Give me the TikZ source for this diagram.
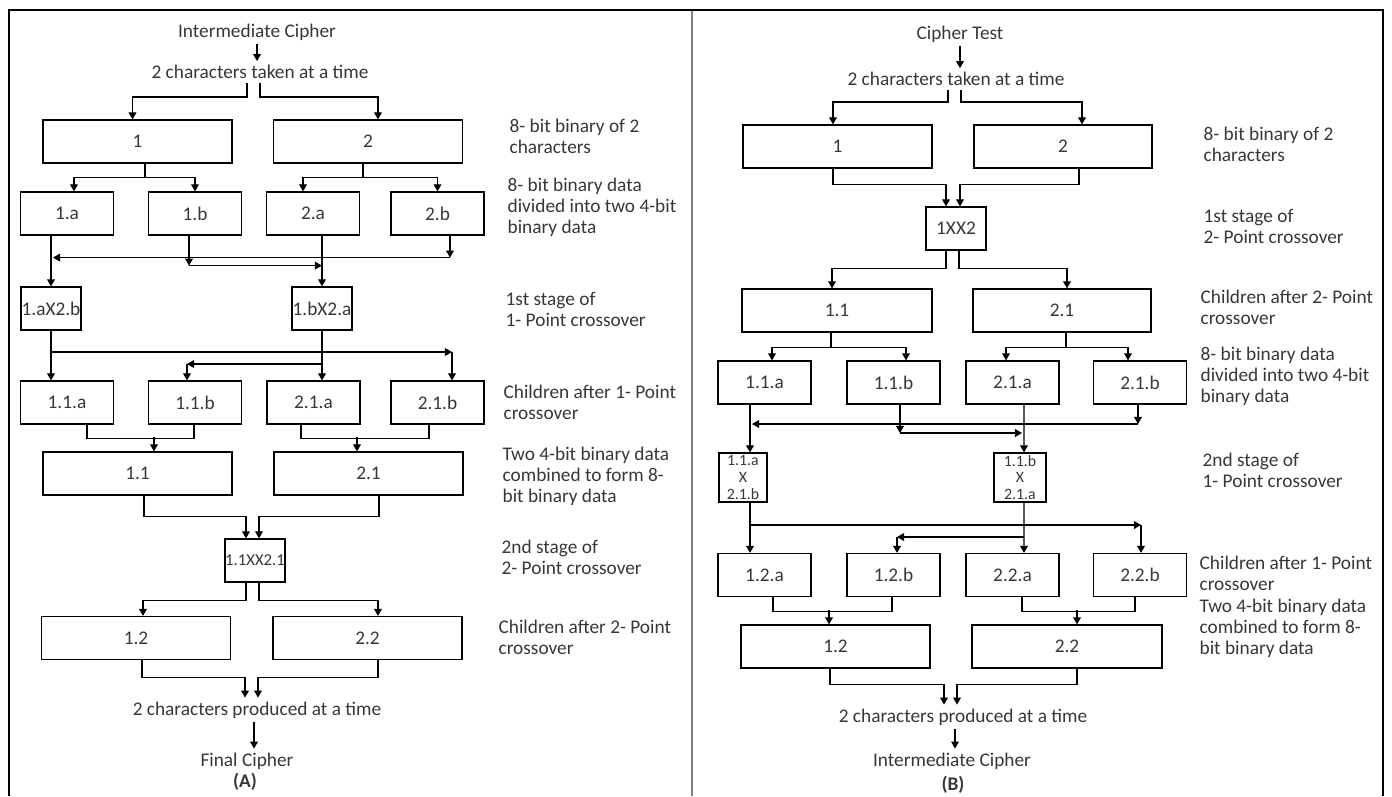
\documentclass[tikz,border=0pt]{standalone}
\usepackage{fontspec}
\setmainfont{Carlito}
\usepackage{xcolor}
\definecolor{txt}{RGB}{55,55,55}
\usepackage{tikz}
\usetikzlibrary{calc}
\usetikzlibrary{arrows.meta}
\tikzset{>={Triangle[length=4pt,width=4.4pt]}}
\tikzset{
  bigbox/.style={draw, text=txt, inner sep=0pt, minimum width=3.78cm, minimum height=0.86cm},
  halfbox/.style={bigbox, minimum width=1.86cm},
  xbox/.style={bigbox, minimum width=1.2cm},
  caption/.style={text=txt, inner sep=2pt},
  stagetext/.style={text=txt, inner sep=0pt, anchor=west, align=left},
}

\begin{document}
\begin{tikzpicture}[x=0.02cm, y=-0.02cm, line width=0.7pt, font=\fontsize{11}{12}\selectfont]

\useasboundingbox (0,0) rectangle (1392,796);
\draw[line width=1.3pt] (9,796) -- (9,10) -- (1383,10) -- (1383,796);
\draw[gray, line width=0.6pt] (692,11) -- (692,796);

% (A)
\node[caption] (ain) at (257,32) {Intermediate Cipher};
\node[caption] (atake) at (260,72) {2 characters taken at a time};
\node[bigbox] (a1) at (137.5,141.5) {1};
\node[bigbox] (a2) at (368,141.5) {2};
\node[halfbox] (a1a) at (67,213.5) {1.a};
\node[halfbox] (a1b) at (195,213.5) {1.b};
\node[halfbox] (a2a) at (313,213.5) {2.a};
\node[halfbox] (a2b) at (437.5,213.5) {2.b};
\node[xbox] (ax1) at (51,308.5) {1.aX2.b};
\node[xbox] (ax2) at (322,308.5) {1.bX2.a};
\node[halfbox] (a11a) at (67,402.5) {1.1.a};
\node[halfbox] (a11b) at (195,402.5) {1.1.b};
\node[halfbox] (a21a) at (313.5,402.5) {2.1.a};
\node[halfbox] (a21b) at (437.5,402.5) {2.1.b};
\node[bigbox] (a11) at (137.5,473.5) {1.1};
\node[bigbox] (a21) at (368.5,473.5) {2.1};
\node[xbox, font=\fontsize{9.5}{10}\selectfont] (axx) at (255,560.5) {1.1XX2.1};
\node[bigbox] (a12) at (136,638) {1.2};
\node[bigbox] (a22) at (367.5,638) {2.2};
\node[caption] (aout) at (257,710) {2 characters produced at a time};
\node[caption] (afin) at (247,761) {Final Cipher};
\node[caption, font=\fontsize{11}{12}\selectfont\bfseries] (alab) at (245,782) {(A)};

\draw[->] (ain.south) -- (ain.south |- atake.north);
\draw[->] ($(atake.south)+(-13,0)$) -- ++(0,14) -| ($(a1.north)+(-5,0)$);
\draw[->] (atake.south) -- ++(0,14) -| ($(a2.north)+(10,0)$);

\draw ($(a1.south)+(7.5,0)$) -- ++(0,14) coordinate (ja1);
\draw[->] (ja1) -| ($(a1a.north)+(7,0)$);
\draw[->] (ja1) -| (a1b.north);
\draw ($(a2.south)+(-5,0)$) -- ++(0,14) coordinate (ja2);
\draw[->] (ja2) -| ($(a2a.north)+(-10,0)$);
\draw[->] (ja2) -| (a2b.north);

\draw[->] (ax1.north |- a1a.south) -- (ax1.north);
\draw[->] ($(a2b.south)+(12.5,0)$) -- ++(0,22) coordinate (ka2);
\draw[->] (ka2) -- ($(ka2 -| ax1.north)+(2,0)$);
\draw[->] ($(a1b.south)+(-6,0)$) -- ++(0,30) coordinate (ka1);
\draw[->] (ka1) -- (ka1 -| ax2.north);
\draw[->] (ax2.north |- a2a.south) -- (ax2.north);

\draw[->] (ax1.south) -- (ax1.south |- a11a.north);
\coordinate (ma1) at (51,352);
\coordinate (na1) at (452,352);
\draw[->] (ma1) -- (na1);
\draw[->] (na1) -- (na1 |- a21b.north);
\draw[->] (ax2.south) -- (ax2.south |- a21a.north);
\coordinate (ma2) at (322,364);
\coordinate (na2) at (187,364);
\draw[->] (ma2) -- (na2);
\draw[->] (na2) -- (na2 |- a11b.north);

\draw ($(a11a.south)+(20,0)$) -- ++(0,14) -| ($(a11b.south)+(-1,0)$);
\draw[->] ($(a11.north)+(16.5,-14)$) -- ($(a11.north)+(16.5,0)$);
\draw ($(a21a.south)+(-12.5,0)$) -- ++(0,14) -| ($(a21b.south)+(-8.5,0)$);
\draw[->] ($(a21.north)+(-11.5,-14)$) -- ($(a21.north)+(-11.5,0)$);

\draw[->] ($(a11.south)+(6.5,0)$) -- ++(0,21) -| ($(axx.north)+(-9,0)$);
\draw[->] ($(a21.south)+(10.5,0)$) -- ++(0,21) -| ($(axx.north)+(4,0)$);
\draw[->] ($(axx.south)+(-9,0)$) -- ++(0,18) -| ($(a12.north)+(7,0)$);
\draw[->] ($(axx.south)+(4,0)$) -- ++(0,18) -| ($(a22.north)+(10.5,0)$);
\draw[->] ($(a12.south)+(6,0)$) -- ++(0,17) -| ($(aout.north)+(-12,0)$);
\draw[->] ($(a22.south)+(10.5,0)$) -- ++(0,17) -| ($(aout.north)+(1,0)$);
\draw[->] ($(aout.south)+(-3,0)$) -- ($(afin.north)+(7,0)$);

\node[stagetext] (as1) at (509,136) {8- bit binary of 2\\characters};
\node[stagetext] (as2) at (507,207) {8- bit binary data\\divided into two 4-bit\\binary data};
\node[stagetext] (as3) at (505,309.5) {1st stage of\\1- Point crossover};
\node[stagetext] (as4) at (503,402) {Children after 1- Point\\crossover};
\node[stagetext] (as5) at (502,476) {Two 4-bit binary data\\combined to form 8-\\bit binary data};
\node[stagetext] (as6) at (501,557.5) {2nd stage of\\2- Point crossover};
\node[stagetext] (as7) at (498,637.5) {Children after 2- Point\\crossover};

% (B)
\node[caption] (bin) at (960,34) {Cipher Test};
\node[caption] (btake) at (956,79) {2 characters taken at a time};
\node[bigbox] (b1) at (837.5,146.5) {1};
\node[bigbox, minimum width=3.56cm] (b2) at (1063,146.5) {2};
\node[xbox] (bxx) at (956,228.5) {1XX2};
\node[bigbox, minimum width=3.8cm] (b11) at (837,310.5) {1.1};
\node[bigbox, minimum width=3.56cm] (b21) at (1062,310.5) {2.1};
\node[halfbox] (b11a) at (764.5,382.5) {1.1.a};
\node[halfbox] (b11b) at (893.5,382.5) {1.1.b};
\node[halfbox] (b21a) at (1012.5,382.5) {2.1.a};
\node[halfbox] (b21b) at (1140,382.5) {2.1.b};
\node[xbox, minimum width=0.96cm, minimum height=0.98cm, align=center,
  font=\fontsize{9}{9.5}\selectfont] (bx1) at (743,477.5) {1.1.a\\X\\2.1.b};
\node[xbox, minimum width=1.04cm, minimum height=0.98cm, align=center,
  font=\fontsize{9}{9.5}\selectfont] (bx2) at (1020,477.5) {1.1.b\\X\\2.1.a};
\node[halfbox] (b12a) at (764.5,575) {1.2.a};
\node[halfbox] (b12b) at (893.5,575) {1.2.b};
\node[halfbox] (b22a) at (1012.5,575) {2.2.a};
\node[halfbox] (b22b) at (1140,575) {2.2.b};
\node[bigbox] (b12) at (835.5,646.5) {1.2};
\node[bigbox, minimum width=3.8cm] (b22) at (1067,646.5) {2.2};
\node[caption] (bout) at (963,717) {2 characters produced at a time};
\node[caption] (bfin) at (952,761) {Intermediate Cipher};
\node[caption, font=\fontsize{11}{12}\selectfont\bfseries] (blab) at (953,785) {(B)};

\draw[->] (bin.south) -- (bin.south |- btake.north);
\draw[->] ($(btake.south)+(-8,0)$) -- ++(0,12) -| ($(b1.north)+(-4.5,0)$);
\draw[->] ($(btake.south)+(5,0)$) -- ++(0,12) -| ($(b2.north)+(19,0)$);
\draw[->] ($(b1.south)+(-4.5,0)$) -- ++(0,16) -| ($(bxx.north)+(-10,0)$);
\draw[->] ($(b2.south)+(16,0)$) -- ++(0,16) -| ($(bxx.north)+(4,0)$);
\draw[->] ($(bxx.south)+(-10,0)$) -- ++(0,18) -| ($(b11.north)+(-5,0)$);
\draw[->] ($(bxx.south)+(3,0)$) -- ++(0,18) -| ($(b21.north)+(5,0)$);

\draw ($(b11.south)+(-6,0)$) -- ++(0,15) coordinate (jb1);
\draw[->] (jb1) -| ($(b11a.north)+(7.5,0)$);
\draw[->] (jb1) -| ($(b11b.north)+(12.5,0)$);
\draw ($(b21.south)+(4,0)$) -- ++(0,15) coordinate (jb2);
\draw[->] (jb2) -| ($(b21a.north)+(-6.5,0)$);
\draw[->] (jb2) -| ($(b21b.north)+(-12,0)$);

\draw[->] ($(b11a.south)+(-14.5,0)$) -- ($(bx1.north)+(7,0)$);
\coordinate (kb2) at (1138,424);
\draw[->] (b21b.south -| kb2) -- (kb2);
\draw[->] (kb2) -- ($(kb2 -| bx1.north)+(9,0)$);
\coordinate (kb1) at (900,433);
\draw[->] (b11b.south -| kb1) -- (kb1);
\draw[->] (kb1) -- ($(kb1 -| bx2.north)+(2,0)$);
\draw[->] ($(b21a.south)+(11.5,0)$) -- ($(bx2.north)+(4,0)$);

\draw[->] ($(bx1.south)+(7,0)$) -- ($(b12a.north)+(-14.5,0)$);
\coordinate (mb1) at (750,525);
\coordinate (nb1) at (1141,525);
\draw[->] (mb1) -- (nb1);
\draw[->] (nb1) -- (nb1 |- b22b.north);
\draw[->] ($(bx2.south)+(4,0)$) -- ($(b22a.north)+(11.5,0)$);
\coordinate (mb2) at (1024,537);
\coordinate (nb2) at (897,537);
\draw[->] (mb2) -- (nb2);
\draw[->] (nb2) -- (nb2 |- b12b.north);

\draw ($(b12a.south)+(8.5,0)$) -- ++(0,14) -| ($(b12b.south)+(-1.5,0)$);
\draw[->] ($(b12.north)+(-6.5,-14)$) -- ($(b12.north)+(-6.5,0)$);
\draw ($(b22a.south)+(9.5,0)$) -- ++(0,14) -| ($(b22b.south)+(-5,0)$);
\draw[->] ($(b22.north)+(10,-14)$) -- ($(b22.north)+(10,0)$);
\draw[->] ($(b12.south)+(-5.5,0)$) -- ++(0,16) -| ($(bout.north)+(-19,0)$);
\draw[->] ($(b22.south)+(10,0)$) -- ++(0,16) -| ($(bout.north)+(-6,0)$);
\draw[->] ($(bout.south)+(-8,0)$) -- ($(bfin.north)+(3,0)$);

\node[stagetext] (bs1) at (1203,144) {8- bit binary of 2\\characters};
\node[stagetext] (bs2) at (1203,226) {1st stage of\\2- Point crossover};
\node[stagetext] (bs3) at (1200,307) {Children after 2- Point\\crossover};
\node[stagetext] (bs4) at (1200,376) {8- bit binary data\\divided into two 4-bit\\binary data};
\node[stagetext] (bs5) at (1202,470.5) {2nd stage of\\1- Point crossover};
\node[stagetext] (bs6) at (1199,573.5) {Children after 1- Point\\crossover};
\node[stagetext] (bs7) at (1199,628) {Two 4-bit binary data\\combined to form 8-\\bit binary data};

\end{tikzpicture}
\end{document}
